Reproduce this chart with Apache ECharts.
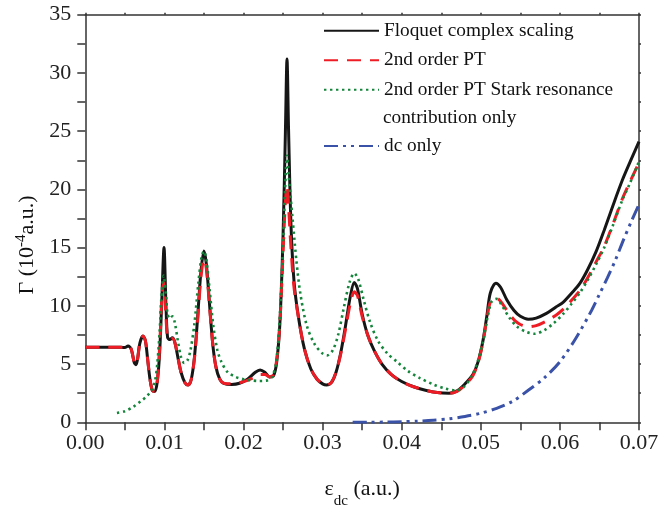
<!DOCTYPE html>
<html>
<head>
<meta charset="utf-8">
<script src="https://cdn.jsdelivr.net/npm/echarts@6/dist/echarts.min.js"></script>
<style>
html,body{margin:0;padding:0;background:#fff;}
#chart{width:659px;height:506px;}
</style>
</head>
<body>
<div id="chart"></div>
<script>
// ---- Data ----
var seriesNames = ['Floquet complex scaling', '2nd order PT', '2nd order PT Stark resonance', 'dc only'];
var legendSecondLine = 'contribution only';
var xTickLabels = ['0.00','0.01','0.02','0.03','0.04','0.05','0.06','0.07'];
var yTickLabels = ['0','5','10','15','20','25','30','35'];

var floquetX = [0,0.002,0.004,0.005,0.0054,0.0058,0.0062,0.0064,0.0066,0.0069,0.0073,0.0076,0.0079,0.0082,0.0085,0.0088,0.0091,0.0094,0.0097,0.00995,0.0102,0.0104,0.0107,0.011,0.0113,0.0117,0.0121,0.0126,0.013,0.0134,0.0138,0.0142,0.0146,0.015,0.0153,0.0157,0.0161,0.0165,0.017,0.0175,0.0185,0.0195,0.0205,0.0215,0.0221,0.0227,0.0233,0.0238,0.0242,0.0246,0.025,0.0253,0.0255,0.0257,0.026,0.0264,0.027,0.0277,0.0285,0.0293,0.03,0.0305,0.0311,0.0317,0.0323,0.0329,0.0335,0.034,0.0344,0.035,0.0357,0.0365,0.0375,0.0387,0.04,0.0415,0.043,0.0445,0.046,0.047,0.048,0.049,0.0497,0.0503,0.0508,0.0512,0.0519,0.0525,0.0533,0.0542,0.055,0.056,0.057,0.0583,0.0595,0.0604,0.0615,0.0625,0.0635,0.0646,0.0656,0.0667,0.0679,0.0689,0.07];
var floquetY = [6.45,6.45,6.45,6.42,6.55,6.3,5.1,4.95,5.4,6.8,7.4,7.0,5.3,3.6,2.7,2.65,3.5,6.0,11.0,15.0,10.0,7.3,7.1,7.25,6.9,5.6,4.3,3.4,3.2,3.7,5.6,9.0,12.8,14.7,13.6,10.2,6.8,4.8,3.7,3.35,3.25,3.35,3.7,4.3,4.5,4.3,3.9,4.0,5.2,8.5,16.0,25.0,31.2,25.0,17.0,12.0,8.8,6.3,4.6,3.7,3.3,3.2,3.4,4.3,6.0,8.3,10.8,12.0,11.5,9.3,7.5,6.2,5.0,4.1,3.5,3.05,2.75,2.55,2.5,2.7,3.3,4.1,5.3,7.1,9.3,11.1,11.95,11.6,10.5,9.6,9.1,8.85,8.95,9.35,9.9,10.3,11.1,11.9,13.1,14.7,16.5,18.6,20.8,22.4,24.1];

var ptX = [0,0.002,0.004,0.005,0.0054,0.0058,0.0062,0.0064,0.0066,0.0069,0.0073,0.0076,0.0079,0.0082,0.0085,0.0088,0.0091,0.0094,0.0097,0.0099,0.0102,0.0104,0.0107,0.011,0.0113,0.0117,0.0121,0.0126,0.013,0.0134,0.0138,0.0142,0.0146,0.015,0.0153,0.0157,0.0161,0.0165,0.017,0.0175,0.0185,0.0195,0.0205,0.0215,0.0221,0.0227,0.0233,0.0238,0.0242,0.0246,0.025,0.0253,0.0255,0.0257,0.026,0.0264,0.027,0.0277,0.0285,0.0293,0.03,0.0305,0.0311,0.0317,0.0323,0.0329,0.0335,0.034,0.0344,0.035,0.0357,0.0365,0.0375,0.0387,0.04,0.0415,0.043,0.0445,0.046,0.047,0.048,0.049,0.0497,0.0503,0.0508,0.0512,0.0519,0.0525,0.0533,0.0542,0.055,0.056,0.057,0.0583,0.0595,0.0604,0.0615,0.0625,0.0635,0.0646,0.0656,0.0667,0.0679,0.0689,0.07];
var ptY = [6.45,6.45,6.45,6.42,6.55,6.3,5.1,4.95,5.4,6.8,7.4,7.0,5.3,3.6,2.7,2.65,3.5,6.5,11.0,12.0,9.0,7.3,7.1,7.2,6.9,5.6,4.3,3.4,3.2,3.7,5.5,8.7,12.3,14.0,13.2,10.0,6.8,4.8,3.7,3.35,3.3,3.4,3.6,3.9,4.1,4.1,3.9,4.1,5.4,8.5,14.5,19.0,20.3,18.5,15.0,11.5,8.8,6.3,4.6,3.7,3.3,3.2,3.4,4.3,5.9,8.0,10.2,11.2,10.9,9.1,7.5,6.2,5.0,4.1,3.5,3.05,2.75,2.55,2.5,2.65,3.2,4.0,5.2,7.0,9.0,10.3,10.7,10.4,9.6,8.8,8.4,8.2,8.3,8.7,9.2,9.7,10.5,11.3,12.4,13.8,15.1,17.0,19.2,20.7,22.3];

var starkX = [0.004,0.005,0.006,0.007,0.0078,0.0084,0.0088,0.0091,0.0094,0.0096,0.0099,0.0102,0.0104,0.0107,0.011,0.0113,0.0117,0.0121,0.0125,0.0129,0.0133,0.0138,0.0143,0.0147,0.015,0.0153,0.0157,0.0162,0.0167,0.0172,0.018,0.019,0.02,0.021,0.022,0.023,0.0236,0.0241,0.0245,0.0249,0.0252,0.0255,0.0258,0.0262,0.0267,0.0272,0.028,0.029,0.03,0.0306,0.0313,0.032,0.0327,0.0334,0.034,0.0345,0.0352,0.036,0.037,0.0382,0.0394,0.0408,0.0423,0.044,0.0455,0.0468,0.0478,0.0488,0.0496,0.0503,0.0509,0.0514,0.052,0.0527,0.0536,0.0546,0.0558,0.0568,0.058,0.0592,0.0604,0.0615,0.0625,0.0635,0.0646,0.0656,0.0667,0.0679,0.0689,0.07];
var starkY = [0.8,0.95,1.3,1.8,2.25,2.8,3.5,5.0,7.8,10.5,12.6,11.0,9.3,8.9,9.1,8.6,7.0,5.6,5.1,5.3,6.2,8.5,12.0,14.2,14.7,14.0,11.5,8.2,6.2,5.2,4.3,3.9,3.7,3.6,3.55,3.6,3.9,5.0,8.0,13.5,19.0,22.9,20.5,17.5,13.8,11.0,8.3,6.7,5.9,5.75,6.2,7.6,9.9,12.0,12.8,12.3,10.5,8.6,7.0,5.9,5.2,4.4,3.8,3.25,2.9,2.75,3.0,3.9,5.2,7.0,9.2,10.4,10.6,10.0,9.0,8.2,7.75,7.6,7.9,8.5,9.3,10.2,11.1,12.2,13.6,15.0,16.9,19.1,20.6,22.4];

var dcX = [0.0338,0.036,0.038,0.04,0.042,0.044,0.046,0.048,0.05,0.052,0.054,0.056,0.058,0.06,0.062,0.064,0.065,0.066,0.067,0.068,0.069,0.07];
var dcY = [0,0.01,0.02,0.05,0.1,0.18,0.3,0.5,0.78,1.2,1.8,2.75,3.8,5.2,7.2,9.6,11.0,12.4,13.9,15.6,17.2,18.7];

function zip(xs, ys){ return xs.map(function(x,i){ return [x, ys[i]]; }); }

var FONT = 'Liberation Serif';
var chart = echarts.init(document.getElementById('chart'), null, {renderer:'canvas'});

var axisLineStyle = {color:'#333', width:1.5};

function mkSeries(name, xs, ys, color, width, type){
  return {
    name: name, type: 'line', data: zip(xs, ys),
    symbol: 'none', smooth: 0.3,
    xAxisIndex: 0, yAxisIndex: 0,
    lineStyle: {color: color, width: width, type: type, cap: 'butt'},
    itemStyle: {color: color},
    emphasis: {disabled: true},
    z: 2
  };
}

var legendCommon = {
  orient: 'vertical', left: 323, padding: 0,
  itemWidth: 55, itemHeight: 14, itemGap: 9.5,
  itemStyle: {opacity: 0},
  textStyle: {fontFamily: FONT, fontSize: 19.3, color: '#111', lineHeight: 20},
  selectedMode: false
};

var option = {
  animation: false,
  backgroundColor: '#fff',
  textStyle: {fontFamily: FONT},
  grid: {left: 85.3, right: 20, top: 14.7, bottom: 83.7, containLabel: false, outerBoundsMode: 'none'},
  legend: [
    Object.assign({}, legendCommon, {data: seriesNames.slice(0,3), top: 20.7}),
    Object.assign({}, legendCommon, {data: seriesNames.slice(3), top: 136})
  ],
  graphic: [{
    type: 'text', left: 383, top: 108,
    style: {text: legendSecondLine, font: '19.3px "Liberation Serif"', fill: '#111'}
  }],
  xAxis: [{
    type: 'value', min: 0, max: 0.07, interval: 0.01, position: 'bottom',
    name: '{a|ε}{s|dc}{a| (a.u.)}', nameLocation: 'middle', nameGap: 56,
    nameTextStyle: {rich: {
      a: {fontFamily: FONT, fontSize: 22, color: '#111', lineHeight: 24, verticalAlign: 'top'},
      s: {fontFamily: FONT, fontSize: 15, color: '#111', lineHeight: 15, padding: [15,0,0,0], verticalAlign: 'top'}
    }},
    axisLine: {show: true, onZero: false, lineStyle: axisLineStyle},
    axisTick: {show: true, inside: false, length: 8, lineStyle: axisLineStyle},
    minorTick: {show: true, splitNumber: 2, length: 8, lineStyle: axisLineStyle},
    splitLine: {show: false},
    axisLabel: {fontFamily: FONT, fontSize: 22, color: '#222', margin: 10,
      formatter: function(v){ return xTickLabels[Math.round(v/0.01)]; }}
  },{
    type: 'value', min: 0, max: 0.07, interval: 0.01, position: 'top',
    axisLine: {show: true, onZero: false, lineStyle: axisLineStyle},
    axisTick: {show: true, inside: false, length: 2, lineStyle: axisLineStyle},
    minorTick: {show: true, splitNumber: 2, length: 2, lineStyle: axisLineStyle},
    splitLine: {show: false}, axisLabel: {show: false}
  }],
  yAxis: [{
    type: 'value', min: 0, max: 35, interval: 5, position: 'left',
    name: '{a|Γ (10}{p|-4}{a|a.u.)}', nameLocation: 'middle', nameGap: 45,
    nameTextStyle: {padding: [0, 53, 0, 0], rich: {
      a: {fontFamily: FONT, fontSize: 22, color: '#111', lineHeight: 24, verticalAlign: 'bottom'},
      p: {fontFamily: FONT, fontSize: 15, color: '#111', lineHeight: 15, padding: [0,0,10,0], verticalAlign: 'bottom'}
    }},
    axisLine: {show: true, onZero: false, lineStyle: axisLineStyle},
    axisTick: {show: true, inside: false, length: 8, lineStyle: axisLineStyle},
    minorTick: {show: true, splitNumber: 2, length: 8, lineStyle: axisLineStyle},
    splitLine: {show: false},
    axisLabel: {fontFamily: FONT, fontSize: 22, color: '#222', margin: 14,
      formatter: function(v){ return yTickLabels[Math.round(v/5)]; }}
  },{
    type: 'value', min: 0, max: 35, interval: 5, position: 'right',
    axisLine: {show: true, onZero: false, lineStyle: axisLineStyle},
    axisTick: {show: true, inside: false, length: 2, lineStyle: axisLineStyle},
    minorTick: {show: true, splitNumber: 2, length: 2, lineStyle: axisLineStyle},
    splitLine: {show: false}, axisLabel: {show: false}
  }],
  series: [
    mkSeries(seriesNames[0], floquetX, floquetY, '#161616', 3, 'solid'),
    mkSeries(seriesNames[1], ptX, ptY, '#ee1c25', 3, [14, 9]),
    mkSeries(seriesNames[2], starkX, starkY, '#14853a', 2.6, [2.4, 3.6]),
    mkSeries(seriesNames[3], dcX, dcY, '#3a52a8', 3, [14, 5, 3, 5, 3, 5])
  ]
};
chart.setOption(option);
</script>
</body>
</html>
